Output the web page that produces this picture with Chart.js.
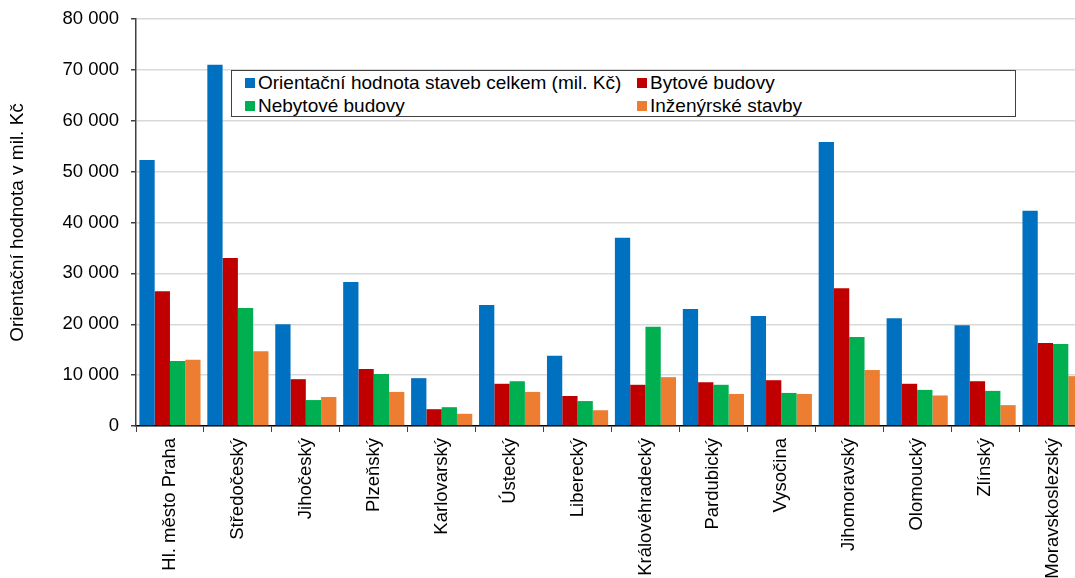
<!DOCTYPE html>
<html>
<head>
<meta charset="utf-8">
<script src="https://cdn.jsdelivr.net/npm/chart.js@4.4.1/dist/chart.umd.min.js"></script>
<style>
    body { margin: 0; background: #fff; overflow: hidden; }
    #wrap { position: relative; width: 1075px; height: 578px; overflow: hidden; }
    #chart { position: absolute; left: 0; top: 0; }
    #legend {
        position: absolute; left: 231px; top: 70px; width: 785px; height: 47px;
        border: 1px solid #404040; background: #fff; box-sizing: border-box;
        font-family: "Liberation Sans", Arial, sans-serif; font-size: 19px; color: #000;
    }
    .item { position: absolute; white-space: nowrap; line-height: 22px; }
    .item span { display: inline-block; width: 10px; height: 10px; margin-right: 3px; vertical-align: 1px; }
</style>
</head>
<body>
<div id="wrap">
    <canvas id="chart" width="1089" height="578"></canvas>
    <div id="legend"></div>
</div>
<script>
// Kraje
const kraje = ['Hl. město Praha', 'Středočeský', 'Jihočeský', 'Plzeňský', 'Karlovarský', 'Ústecký',
    'Liberecký', 'Královéhradecký', 'Pardubický', 'Vysočina', 'Jihomoravský', 'Olomoucký', 'Zlínský', 'Moravskoslezský'];

// Hodnoty v mil. Kč
const celkem     = [52300, 71000, 20000, 28300, 9400, 23800, 13800, 37000, 23000, 21600, 55800, 21200, 19800, 42300];
const bytove     = [26500, 33000, 9200, 11200, 3300, 8300, 5900, 8100, 8600, 9000, 27100, 8300, 8800, 16300];
const nebytove   = [12800, 23200, 5100, 10200, 3700, 8800, 4900, 19500, 8100, 6500, 17500, 7100, 6900, 16100];
const inzenyrske = [13000, 14700, 5700, 6700, 2400, 6700, 3100, 9600, 6300, 6300, 11000, 6000, 4100, 9800];

const nazvy = ['Orientační hodnota staveb celkem (mil. Kč)', 'Bytové budovy', 'Nebytové budovy', 'Inženýrské stavby'];
const barvy = ['#0070C0', '#C00000', '#00B050', '#ED7D31'];
const yTicks = [0, 10000, 20000, 30000, 40000, 50000, 60000, 70000, 80000];

const font = 'Liberation Sans';

function formatNum(v) {
    return v.toString().replace(/\B(?=(\d{3})+(?!\d))/g, ' ');
}

const datasets = [celkem, bytove, nebytove, inzenyrske].map((vals, i) => ({
    label: nazvy[i],
    data: vals,
    backgroundColor: barvy[i],
    borderWidth: 0,
    categoryPercentage: 0.9,
    barPercentage: 1.0
}));

new Chart(document.getElementById('chart'), {
    type: 'bar',
    data: { labels: kraje, datasets: datasets },
    options: {
        responsive: false,
        animation: false,
        devicePixelRatio: 1,
        layout: { padding: { top: 19, right: 2, left: 0, bottom: 0 } },
        plugins: { legend: { display: false }, tooltip: { enabled: false } },
        scales: {
            x: {
                grid: { display: true, drawOnChartArea: false, drawTicks: true, tickLength: 6, color: '#404040', offset: true },
                border: { display: true, color: '#000', width: 1.5 },
                ticks: { minRotation: 90, maxRotation: 90, autoSkip: false, padding: 6, color: '#000', font: { family: font, size: 18.5 } },
                afterFit: (scale) => { scale.height = 152; scale.paddingLeft = 0; scale.paddingRight = 0; }
            },
            y: {
                min: 0, max: 80000,
                afterBuildTicks: (scale) => { scale.ticks = yTicks.map(v => ({ value: v })); },
                grid: { color: '#d9d9d9', lineWidth: 1.5, drawTicks: true, tickLength: 5, tickColor: '#404040' },
                border: { display: true, color: '#404040', width: 1.5 },
                ticks: { padding: 12, color: '#000', font: { family: font, size: 18.5 }, callback: (v) => formatNum(v) },
                title: { display: true, text: 'Orientační hodnota v mil. Kč', color: '#000', font: { family: font, size: 19 }, padding: { top: 6, bottom: 0 } },
                afterFit: (scale) => { scale.width = 136; scale.paddingTop = 0; scale.paddingBottom = 0; }
            }
        }
    }
});

// Legenda (2 sloupce, 2 řádky)
const legend = document.getElementById('legend');
const pozice = [[13, 1], [405, 1], [13, 24], [405, 24]];
nazvy.forEach((n, i) => {
    const d = document.createElement('div');
    d.className = 'item';
    d.style.left = pozice[i][0] + 'px';
    d.style.top = pozice[i][1] + 'px';
    d.innerHTML = '<span style="background:' + barvy[i] + '"></span>' + n;
    legend.appendChild(d);
});
</script>
</body>
</html>
